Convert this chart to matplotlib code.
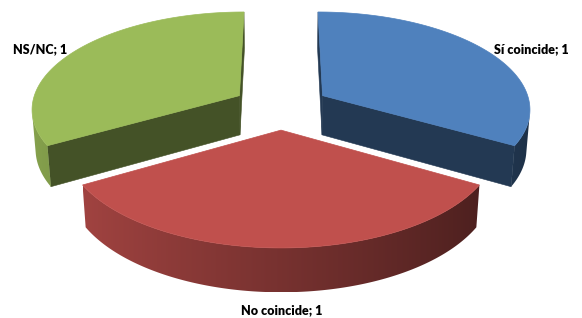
import numpy as np
import matplotlib
matplotlib.use("Agg")
import matplotlib.pyplot as plt
from matplotlib.patches import Polygon
from matplotlib.colors import to_rgb

# chart data
labels = ["Sí coincide", "No coincide", "NS/NC"]
values = [1, 1, 1]
colors = ["#4f81bd", "#c0504d", "#9bbb59"]

# 3d look of the pie (radius = 1)
elev = np.radians(27.7)
dist = 8 * np.cos(elev)
focal = 1474
height = 0.218
explode = 0.234
cx, cy = 281, 106.8

cam = np.array([0.0, -dist * np.cos(elev), dist * np.sin(elev)])
fwd = np.array([0.0, np.cos(elev), -np.sin(elev)])
up = np.array([0.0, np.sin(elev), np.cos(elev)])


def project(pts):
    pts = np.atleast_2d(pts)
    p = pts - cam
    d = p @ fwd
    sx = focal * p[:, 0] / d
    sy = focal * (p @ up) / d
    return np.column_stack([cx + sx, cy - sy])


def visible(normal, point):
    return np.dot(normal, cam - point) > 0


def shade(col, k):
    return tuple(np.clip(np.array(to_rgb(col)) * k, 0, 1))


fig = plt.figure(figsize=(5.82, 3.18), dpi=100)
ax = fig.add_axes([0, 0, 1, 1])
ax.axis("off")

total = sum(values)
bounds = np.concatenate([[0], np.cumsum(values)]) / total * 2 * np.pi
# clockwise from the back: draw back slices first, front slice last
mids = (bounds[:-1] + bounds[1:]) / 2
order = np.argsort(-np.cos(mids))

z = 1
for i in order:
    t0, t1 = bounds[i], bounds[i + 1]
    tm = mids[i]
    off = explode * np.array([np.sin(tm), np.cos(tm), 0.0])
    th = np.linspace(t0, t1, 240)
    rim_top = np.column_stack([np.sin(th), np.cos(th), np.zeros_like(th)]) + off
    rim_bot = rim_top - [0, 0, height]
    apex_top = off
    apex_bot = off - [0, 0, height]
    col = colors[i]

    # radial faces
    for t, n in [(t0, np.array([-np.cos(t0), np.sin(t0), 0])),
                 (t1, np.array([np.cos(t1), -np.sin(t1), 0]))]:
        rp = np.array([np.sin(t), np.cos(t), 0]) + off
        quad = np.array([apex_top, rp, rp - [0, 0, height], apex_bot])
        if visible(n, quad.mean(axis=0)):
            ax.add_patch(Polygon(project(quad), closed=True,
                                 facecolor=shade(col, 0.44),
                                 edgecolor=shade(col, 0.44), lw=0.4, zorder=z))
            z += 1

    # outer wall: one polygon filled with a left-lit gradient
    seen = [j for j in range(len(th))
            if visible(np.array([np.sin(th[j]), np.cos(th[j]), 0]), rim_top[j])]
    if seen:
        j0, j1 = seen[0], seen[-1] + 1
        top2d = project(rim_top[j0:j1])
        bot2d = project(rim_bot[j0:j1])
        outline = np.vstack([top2d, bot2d[::-1]])
        kk = 0.62 - 0.25 * np.sin(th[j0:j1])
        xs = np.linspace(outline[:, 0].min(), outline[:, 0].max(), 300)
        srt = np.argsort(top2d[:, 0])
        kx = np.interp(xs, top2d[srt, 0], kk[srt])
        grad = np.array([shade(col, k) for k in kx])[None, :, :]
        wall = Polygon(outline, closed=True, facecolor="none", edgecolor="none")
        ax.add_patch(wall)
        im = ax.imshow(grad, extent=[xs[0], xs[-1], outline[:, 1].max(),
                                     outline[:, 1].min()],
                       aspect="auto", interpolation="bilinear", zorder=z)
        im.set_clip_path(wall)
        z += 1

    # top face
    top = np.vstack([apex_top, rim_top])
    ax.add_patch(Polygon(project(top), closed=True, facecolor=col,
                         edgecolor=col, lw=0.5, zorder=z))
    z += 1

    # data label
    txt = f"{labels[i]}; {values[i]}"
    rp = np.array([np.sin(tm), np.cos(tm), 0]) + off
    if np.cos(tm) < 0:
        x, y = project(rp - [0, 0, height])[0]
        ax.text(x + 1, y + 22, txt, ha="center", va="baseline", fontsize=9,
                fontweight="heavy", family="Lato", zorder=10)
    else:
        x, y = project(rp)[0]
        side = 1 if np.sin(tm) > 0 else -1
        ax.text(x + 7 * side, y + 2, txt, ha="left" if side > 0 else "right",
                va="baseline", fontsize=9, fontweight="heavy", family="Lato",
                zorder=10)

ax.set_xlim(0, 582)
ax.set_ylim(318, 0)
fig.savefig("out.png", dpi=100)
